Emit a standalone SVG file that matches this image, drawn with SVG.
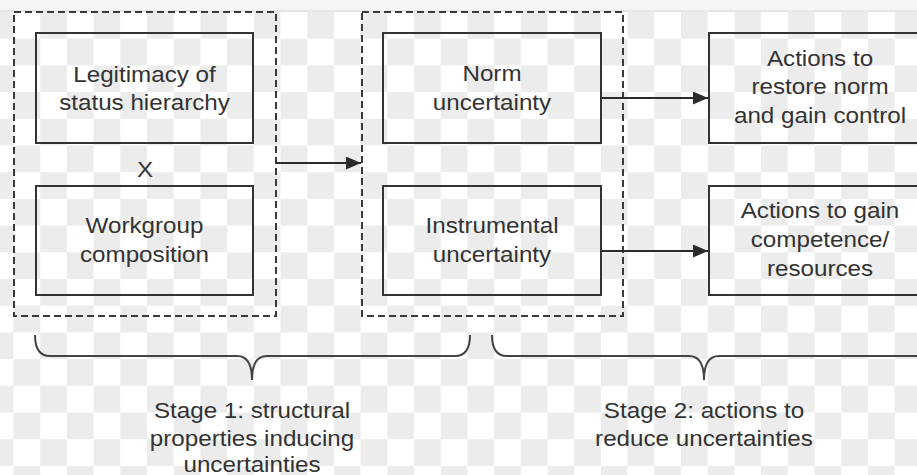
<svg xmlns="http://www.w3.org/2000/svg" width="917" height="475" viewBox="0 0 917 475">
<defs>
<pattern id="checker" x="13.5" y="12" width="53.4" height="53.4" patternUnits="userSpaceOnUse">
<rect x="0" y="0" width="53.4" height="53.4" fill="#ffffff"/>
<rect x="26.7" y="0" width="26.7" height="26.7" fill="#ececec"/>
<rect x="0" y="26.7" width="26.7" height="26.7" fill="#ececec"/>
</pattern>
<marker id="arrow" markerUnits="userSpaceOnUse" markerWidth="16" markerHeight="14" refX="15" refY="6.5" orient="auto">
<path d="M0,0 L15,6.5 L0,13 Z" fill="#2b2b2b"/>
</marker>
<style>
.box{fill:none;stroke:#333;stroke-width:2}
.group{fill:none;stroke:#3a3a3a;stroke-width:2;stroke-dasharray:7 4}
.conn{fill:none;stroke:#2b2b2b;stroke-width:2}
.brace{fill:none;stroke:#444;stroke-width:2}
text{font-family:"Liberation Sans",Arial,sans-serif;font-size:22px;fill:#333;text-anchor:middle}
</style>
</defs>
<g id="background">
<rect x="0" y="0" width="917" height="475" fill="url(#checker)"/>
<rect x="0" y="0" width="917" height="11" fill="#f5f5f5"/>
<line x1="0" y1="11" x2="917" y2="11" stroke="#d6d6d6" stroke-width="1"/>
</g>
<g id="stage1-group">
<rect class="group" x="14" y="12" width="262" height="304"/>
</g>
<g id="stage2-group">
<rect class="group" x="362" y="12" width="261" height="304"/>
</g>
<g id="legitimacy">
<rect class="box" x="36" y="33" width="217" height="110"/>
<text transform="translate(144.5,82) scale(1.1,1)">Legitimacy of</text>
<text transform="translate(144.5,110) scale(1.1,1)">status hierarchy</text>
</g>
<g id="times">
<text transform="translate(145,177) scale(1.1,1)">X</text>
</g>
<g id="workgroup">
<rect class="box" x="36" y="186" width="217" height="109"/>
<text transform="translate(144.5,233) scale(1.1,1)">Workgroup</text>
<text transform="translate(144.5,262) scale(1.1,1)">composition</text>
</g>
<g id="norm">
<rect class="box" x="383" y="33" width="218" height="110"/>
<text transform="translate(492,81) scale(1.1,1)">Norm</text>
<text transform="translate(492,110) scale(1.1,1)">uncertainty</text>
</g>
<g id="instrumental">
<rect class="box" x="383" y="186" width="218" height="109"/>
<text transform="translate(492,233) scale(1.1,1)">Instrumental</text>
<text transform="translate(492,262) scale(1.1,1)">uncertainty</text>
</g>
<g id="restore-norm">
<rect class="box" x="709" y="33" width="230" height="110"/>
<text transform="translate(820,66) scale(1.1,1)">Actions to</text>
<text transform="translate(820,94) scale(1.1,1)">restore norm</text>
<text transform="translate(820,123) scale(1.1,1)">and gain control</text>
</g>
<g id="gain-competence">
<rect class="box" x="709" y="186" width="230" height="109"/>
<text transform="translate(820,218) scale(1.1,1)">Actions to gain</text>
<text transform="translate(820,247) scale(1.1,1)">competence/</text>
<text transform="translate(820,276) scale(1.1,1)">resources</text>
</g>
<g id="connectors">
<line class="conn" x1="276" y1="163" x2="361" y2="163" marker-end="url(#arrow)"/>
<line class="conn" x1="601" y1="98" x2="708" y2="98" marker-end="url(#arrow)"/>
<line class="conn" x1="601" y1="251" x2="708" y2="251" marker-end="url(#arrow)"/>
</g>
<g id="stage1-brace">
<path class="brace" d="M35,335 Q35,356 50,356 L237,356 Q252,356 252,380 Q252,356 267,356 L455,356 Q470,356 470,335"/>
<text transform="translate(252,418) scale(1.1,1)">Stage 1: structural</text>
<text transform="translate(252,446) scale(1.1,1)">properties inducing</text>
<text transform="translate(252,472) scale(1.1,1)">uncertainties</text>
</g>
<g id="stage2-brace">
<path class="brace" d="M492,335 Q492,356 507,356 L689,356 Q704,356 704,380 Q704,356 719,356 L930,356"/>
<text transform="translate(704,418) scale(1.1,1)">Stage 2: actions to</text>
<text transform="translate(704,446) scale(1.1,1)">reduce uncertainties</text>
</g>
</svg>
